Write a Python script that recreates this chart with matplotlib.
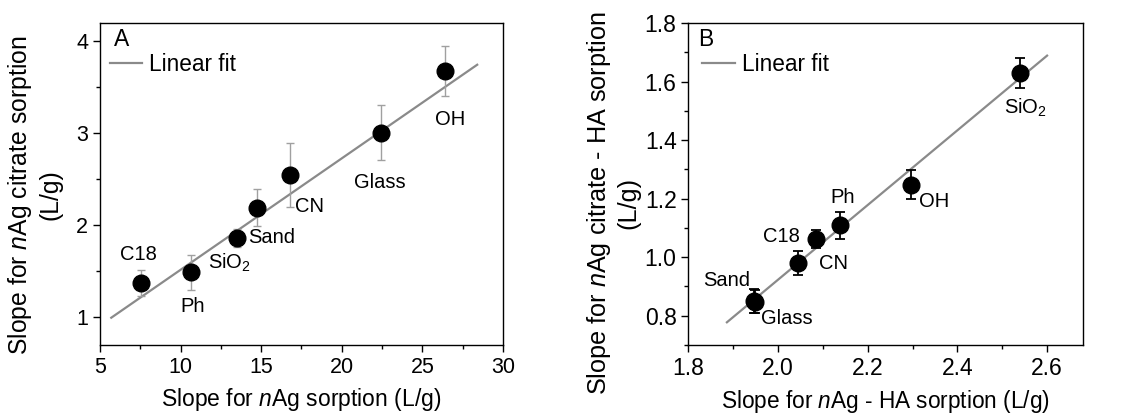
import matplotlib
matplotlib.use("Agg")
import matplotlib.pyplot as plt
import numpy as np
from matplotlib.ticker import MultipleLocator, FormatStrFormatter

plt.rcParams['font.family'] = ['Liberation Sans', 'DejaVu Sans']
plt.rcParams['mathtext.fontset'] = 'custom'
plt.rcParams['mathtext.rm'] = 'Liberation Sans'
plt.rcParams['mathtext.it'] = 'Liberation Sans:italic'

# panel A: nAg vs nAg citrate sorption slopes
names_a = ["C18", "Ph", "SiO$_2$", "Sand", "CN", "Glass", "OH"]
x_a = [7.52, 10.62, 13.47, 14.77, 16.78, 22.46, 26.43]
y_a = [1.376, 1.49, 1.857, 2.19, 2.544, 3.0, 3.67]
err_a = [0.14, 0.19, 0.10, 0.20, 0.35, 0.30, 0.27]
label_xy_a = [(7.38, 1.68), (10.74, 1.12), (13.06, 1.59), (15.64, 1.87),
              (18.02, 2.20), (22.36, 2.46), (26.69, 3.14)]
fit_a = (0.1208, 0.307)
fit_range_a = (5.7, 28.4)

# panel B: HA-coated versions
names_b = ["Sand", "Glass", "C18", "CN", "Ph", "OH", "SiO$_2$"]
x_b = [1.946, 1.948, 2.044, 2.085, 2.139, 2.296, 2.539]
y_b = [0.850, 0.848, 0.980, 1.062, 1.109, 1.248, 1.629]
err_b = [0.04, 0.04, 0.04, 0.03, 0.047, 0.05, 0.052]
label_xy_b = [(1.886, 0.921), (2.02, 0.792), (2.008, 1.069), (2.124, 0.98),
              (2.145, 1.205), (2.348, 1.19), (2.552, 1.51)]
fit_b = (1.276, -1.629)
fit_range_b = (1.886, 2.6)

NAME_FS = 14.5

fig = plt.figure(figsize=(11.22, 4.17), dpi=100)
axA = fig.add_axes([0.0891, 0.1727, 0.3592, 0.7721])
axB = fig.add_axes([0.6135, 0.1727, 0.3517, 0.7721])


def draw_panel(ax, x, y, err, names, label_xy, fit, fit_range,
               ecolor, elw, cap, tick_fs, leg_x):
    xf = np.array(fit_range)
    ax.plot(xf, fit[0] * xf + fit[1], color='#8a8a8a', lw=1.6, label='Linear fit', zorder=2)
    ax.errorbar(x, y, yerr=err, fmt='none', ecolor=ecolor, elinewidth=elw,
                capsize=cap, capthick=elw, zorder=3)
    ax.plot(x, y, 'o', color='black', ms=12, zorder=4, ls='none')
    for name, (lx, ly) in zip(names, label_xy):
        ax.text(lx, ly, name, ha='center', va='center', fontsize=NAME_FS)
    ax.tick_params(which='both', direction='out', labelsize=tick_fs, width=1,
                   top=False, right=False)
    ax.tick_params(which='major', length=5)
    ax.tick_params(which='minor', length=3)
    for s in ax.spines.values():
        s.set_linewidth(1)
    ax.legend(loc='upper left', bbox_to_anchor=(leg_x, 0.95), frameon=False,
              fontsize=16.3, handlelength=1.45, handletextpad=0.3,
              borderaxespad=0.2)


draw_panel(axA, x_a, y_a, err_a, names_a, label_xy_a, fit_a, fit_range_a,
           '#a0a0a0', 1.0, 3, 15.5, -0.01)
axA.set_xlim(5, 30)
axA.set_ylim(0.7, 4.19)
axA.xaxis.set_major_locator(MultipleLocator(5))
axA.xaxis.set_minor_locator(MultipleLocator(2.5))
axA.yaxis.set_major_locator(MultipleLocator(1))
axA.yaxis.set_minor_locator(MultipleLocator(0.5))
axA.text(0.035, 0.985, 'A', transform=axA.transAxes, fontsize=16.5, va='top')
axA.set_xlabel('Slope for $\\it{n}$Ag sorption (L/g)', fontsize=16.5, labelpad=6)
axA.set_ylabel('Slope for $\\it{n}$Ag citrate sorption\n(L/g)', fontsize=17.8,
               linespacing=1.2)
axA.yaxis.set_label_coords(-0.094, 0.466)

draw_panel(axB, x_b, y_b, err_b, names_b, label_xy_b, fit_b, fit_range_b,
           'black', 1.3, 3.5, 16.5, 0.0)
axB.set_xlim(1.8, 2.68)
axB.set_ylim(0.7, 1.8)
axB.xaxis.set_major_locator(MultipleLocator(0.2))
axB.xaxis.set_minor_locator(MultipleLocator(0.1))
axB.yaxis.set_major_locator(MultipleLocator(0.2))
axB.yaxis.set_minor_locator(MultipleLocator(0.1))
axB.xaxis.set_major_formatter(FormatStrFormatter('%.1f'))
axB.yaxis.set_major_formatter(FormatStrFormatter('%.1f'))
axB.text(0.025, 0.985, 'B', transform=axB.transAxes, fontsize=16.5, va='top')
axB.set_xlabel('Slope for $\\it{n}$Ag - HA sorption (L/g)', fontsize=16.3, labelpad=6)
axB.set_ylabel('Slope for $\\it{n}$Ag citrate - HA sorption\n(L/g)', fontsize=18.2,
               linespacing=1.2)
axB.yaxis.set_label_coords(-0.1215, 0.441)

fig.savefig('out.png', dpi=100)
